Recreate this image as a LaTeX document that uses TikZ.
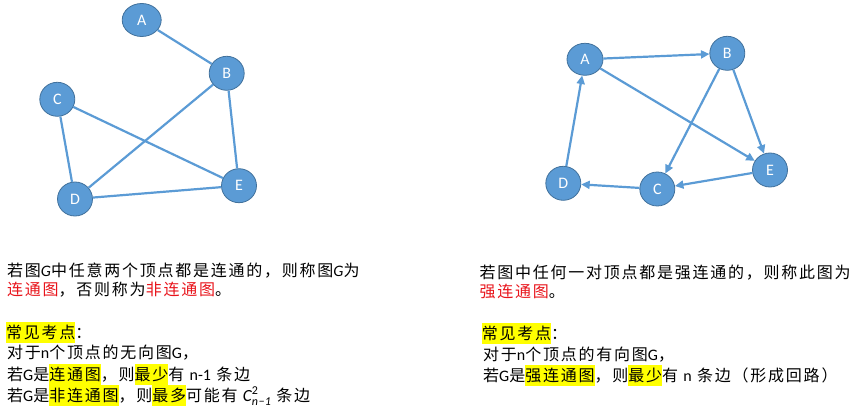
\documentclass[tikz,border=0pt]{standalone}
\usepackage{fontspec}
\setmainfont{Noto Sans CJK SC}[LetterSpace=11]
\newfontfamily\lat{Carlito}
\usetikzlibrary{shapes.geometric,arrows.meta}
\definecolor{vfill}{HTML}{5B9BD5}
\definecolor{vborder}{HTML}{41719C}
\definecolor{ecol}{HTML}{5B9BD5}
\definecolor{hlyellow}{HTML}{FFFF00}
\definecolor{txtred}{HTML}{E8141B}
\newcommand\hl[1]{{\setlength{\fboxsep}{0pt}\colorbox{hlyellow}{\rule[-4.5pt]{0pt}{21pt}#1}}}
\newcommand\comb{{\lat\itshape\fontsize{17}{17}\selectfont C}\makebox[0pt][l]{\raisebox{7pt}{\lat\fontsize{12}{12}\selectfont 2}}\raisebox{-4pt}{\lat\itshape\fontsize{12}{12}\selectfont n\kern0.5pt−\kern0.5pt1}}
\begin{document}
\begin{tikzpicture}[x=1pt,y=-1pt,
  vtx/.style={ellipse, draw=vborder, fill=vfill, line width=0.8pt, text=white,
    font=\lat\fontsize{16}{16}\selectfont, inner sep=0pt, minimum width=35pt, minimum height=34pt},
  edge/.style={draw=ecol, line width=2.2pt},
  arr/.style={edge, -{Triangle[length=8.5pt,width=8pt]}},
  txt/.style={anchor=base west, inner sep=0pt, font=\fontsize{16}{20}\selectfont}]
\useasboundingbox (0,0) rectangle (856,414);
% left graph
\node[vtx, minimum width=39pt, minimum height=33pt] (la) at (141.7,20) {A};
\node[vtx] (lb) at (226.7,73.3) {B};
\node[vtx] (lc) at (57.3,99.3) {C};
\node[vtx] (ld) at (75,199) {D};
\node[vtx] (le) at (239,185.7) {E};
\draw[edge] (la) -- (lb);
\draw[edge] (lb) -- (le);
\draw[edge] (lb) -- (ld);
\draw[edge] (lc) -- (ld);
\draw[edge] (lc) -- (le);
\draw[edge] (ld) -- (le);
% right graph
\node[vtx, minimum width=36pt, minimum height=32pt] (ra) at (585,59.3) {A};
\node[vtx] (rb) at (727.3,53.3) {B};
\node[vtx] (rc) at (657.3,189) {C};
\node[vtx] (rd) at (563.3,183.3) {D};
\node[vtx] (re) at (770,170) {E};
\draw[arr] (ra) -- (rb);
\draw[arr] (ra) -- (re);
\draw[arr] (rb) -- (rc);
\draw[arr] (rb) -- (re);
\draw[arr] (re) -- (rc);
\draw[arr] (rc) -- (rd);
\draw[arr] (rd) -- (ra);
% left text
\node[txt] (l1) at (7,276) {若图{\lat\itshape G}中任意两个顶点都是连通的，则称图{\lat\itshape G}为};
\node[txt] (l2) at (7,295) {\textcolor{txtred}{连通图}，否则称为\textcolor{txtred}{非连通图}。};
\node[txt] (l3) at (6,338) {\hl{常见考点}：};
\node[txt] (l4) at (7,358.5) {对于{\lat n}个顶点的无向图{\lat G}，};
\node[txt] (l5) at (7,380) {若{\lat G}是\hl{连通图}，则\hl{最少}有 {\lat n-1} 条边};
\node[txt] (l6) at (7,401) {若{\lat G}是\hl{非连通图}，则\hl{最多}可能有 \comb\ 条边};
% right text
\node[txt] (r1) at (479.3,278.5) {若图中任何一对顶点都是强连通的，则称此图为};
\node[txt] (r2) at (479.3,297) {\textcolor{txtred}{强连通图}。};
\node[txt] (r3) at (481.7,339.5) {\hl{常见考点}：};
\node[txt] (r4) at (483,360) {对于{\lat n}个顶点的有向图{\lat G}，};
\node[txt] (r5) at (483,381.7) {若{\lat G}是\hl{强连通图}，则\hl{最少}有 {\lat n} 条边（形成回路）};
\end{tikzpicture}
\end{document}
